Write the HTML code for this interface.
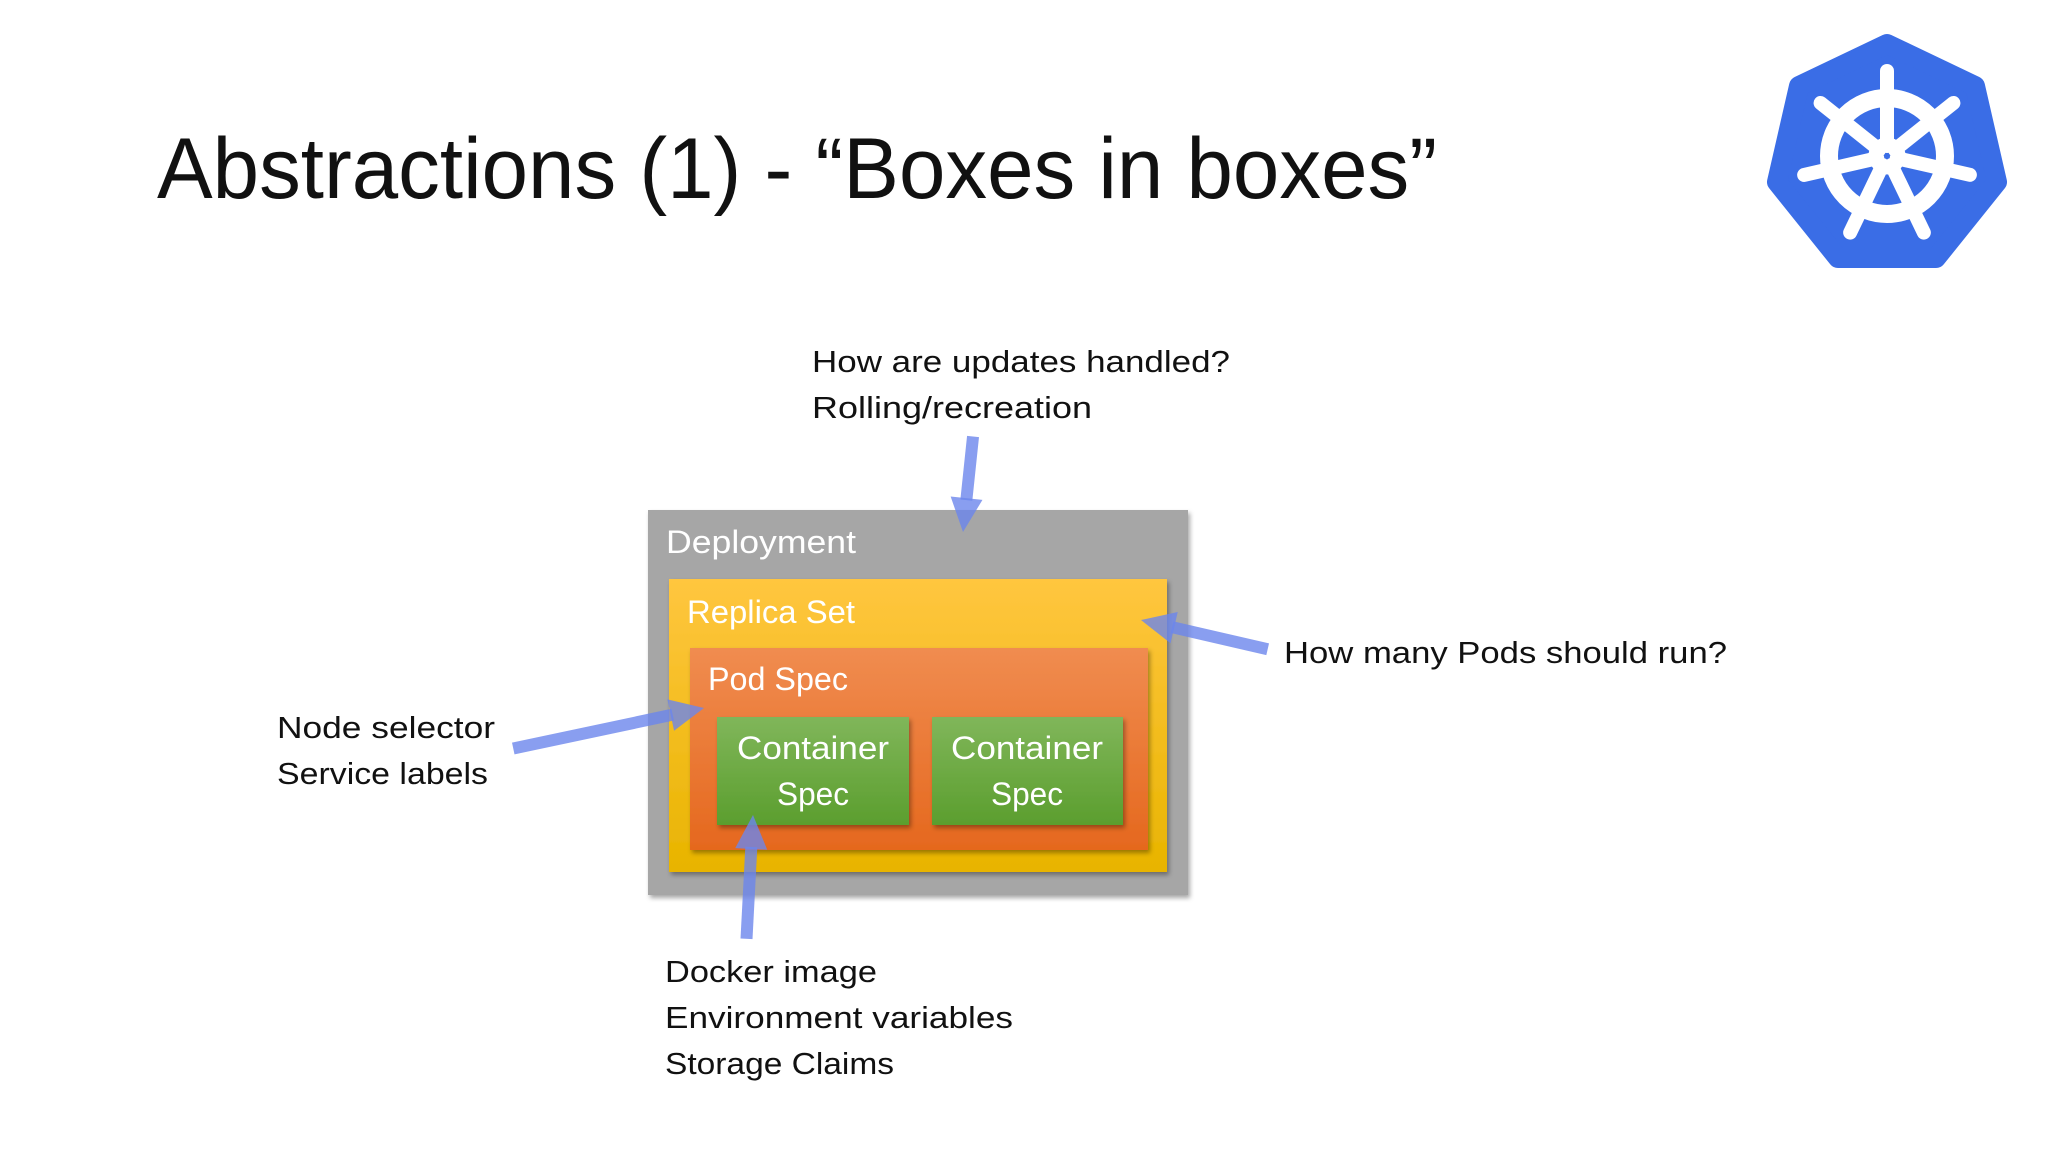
<!DOCTYPE html>
<html><head><meta charset="utf-8"><style>
html,body{margin:0;padding:0;background:#fff;}
svg{display:block;}
text{font-family:"Liberation Sans",sans-serif;}
</style></head><body>
<svg width="2048" height="1152" viewBox="0 0 2048 1152" xmlns="http://www.w3.org/2000/svg">
<defs>
<linearGradient id="gy" x1="0" y1="0" x2="0" y2="1"><stop offset="0" stop-color="#FFC63F"/><stop offset="1" stop-color="#E8B400"/></linearGradient>
<linearGradient id="go" x1="0" y1="0" x2="0" y2="1"><stop offset="0" stop-color="#F08C50"/><stop offset="1" stop-color="#E5681E"/></linearGradient>
<linearGradient id="gg" x1="0" y1="0" x2="0" y2="1"><stop offset="0" stop-color="#80B65A"/><stop offset="1" stop-color="#5B9E2E"/></linearGradient>
<filter id="sh" x="-5%" y="-5%" width="115%" height="115%"><feDropShadow dx="2" dy="3" stdDeviation="2.5" flood-color="#000" flood-opacity="0.35"/></filter>
</defs>
<text x="157" y="198" font-size="86" fill="#111" textLength="1280" lengthAdjust="spacingAndGlyphs">Abstractions (1) - “Boxes in boxes”</text>

<!-- logo -->
<g transform="translate(1887,156)">
<polygon points="0,-112 88,-70 110,26 49,102 -49,102 -110,26 -88,-70" fill="#3A6DE6" stroke="#3A6DE6" stroke-width="20" stroke-linejoin="round"/>
<g stroke="#fff" fill="none">
<circle r="58" stroke-width="18"/>
<g stroke-width="14" stroke-linecap="round">
<line x1="0" y1="-10" x2="0" y2="-85"/>
<line x1="0" y1="-10" x2="0" y2="-85" transform="rotate(51.4)"/>
<line x1="0" y1="-10" x2="0" y2="-85" transform="rotate(102.8)"/>
<line x1="0" y1="-10" x2="0" y2="-85" transform="rotate(154.3)"/>
<line x1="0" y1="-10" x2="0" y2="-85" transform="rotate(205.7)"/>
<line x1="0" y1="-10" x2="0" y2="-85" transform="rotate(257.1)"/>
<line x1="0" y1="-10" x2="0" y2="-85" transform="rotate(308.6)"/>
</g>
<circle r="13" stroke-width="11"/>
</g>
</g>

<!-- boxes -->
<rect x="648" y="510" width="540" height="385" fill="#A6A6A6" filter="url(#sh)"/>
<rect x="669" y="579" width="498" height="293" fill="url(#gy)" filter="url(#sh)"/>
<rect x="690" y="648" width="458" height="202" fill="url(#go)" filter="url(#sh)"/>
<rect x="717" y="717" width="192" height="108" fill="url(#gg)" filter="url(#sh)"/>
<rect x="932" y="717" width="191" height="108" fill="url(#gg)" filter="url(#sh)"/>
<g fill="#fff" font-size="32">
<text x="666" y="553" textLength="190" lengthAdjust="spacingAndGlyphs">Deployment</text>
<text x="687" y="623" textLength="168" lengthAdjust="spacingAndGlyphs">Replica Set</text>
<text x="708" y="690" textLength="140" lengthAdjust="spacingAndGlyphs">Pod Spec</text>
<text x="813" y="759" text-anchor="middle" textLength="152" lengthAdjust="spacingAndGlyphs">Container</text>
<text x="813" y="805" text-anchor="middle" textLength="72" lengthAdjust="spacingAndGlyphs">Spec</text>
<text x="1027" y="759" text-anchor="middle" textLength="152" lengthAdjust="spacingAndGlyphs">Container</text>
<text x="1027" y="805" text-anchor="middle" textLength="72" lengthAdjust="spacingAndGlyphs">Spec</text>
</g>

<!-- arrows -->
<g fill="#6B86EC" fill-opacity="0.8" stroke="none">
<g transform="translate(963,532) rotate(186)"><rect x="-6" y="32" width="12" height="64"/><polygon points="0,0 -16,34 16,34"/></g>
<g transform="translate(1141,620) rotate(-77)"><rect x="-6" y="32" width="12" height="98"/><polygon points="0,0 -16,34 16,34"/></g>
<g transform="translate(704,708) rotate(78)"><rect x="-6" y="32" width="12" height="163"/><polygon points="0,0 -16,34 16,34"/></g>
<g transform="translate(753,815) rotate(3)"><rect x="-6" y="32" width="12" height="92"/><polygon points="0,0 -16,34 16,34"/></g>
</g>

<!-- labels -->
<g fill="#111" font-size="31">
<text x="812" y="372" textLength="418" lengthAdjust="spacingAndGlyphs">How are updates handled?</text>
<text x="812" y="418" textLength="280" lengthAdjust="spacingAndGlyphs">Rolling/recreation</text>
<text x="1284" y="663" textLength="443" lengthAdjust="spacingAndGlyphs">How many Pods should run?</text>
<text x="277" y="738" textLength="218" lengthAdjust="spacingAndGlyphs">Node selector</text>
<text x="277" y="784" textLength="211" lengthAdjust="spacingAndGlyphs">Service labels</text>
<text x="665" y="982" textLength="212" lengthAdjust="spacingAndGlyphs">Docker image</text>
<text x="665" y="1028" textLength="348" lengthAdjust="spacingAndGlyphs">Environment variables</text>
<text x="665" y="1074" textLength="229" lengthAdjust="spacingAndGlyphs">Storage Claims</text>
</g>
</svg>
</body></html>
